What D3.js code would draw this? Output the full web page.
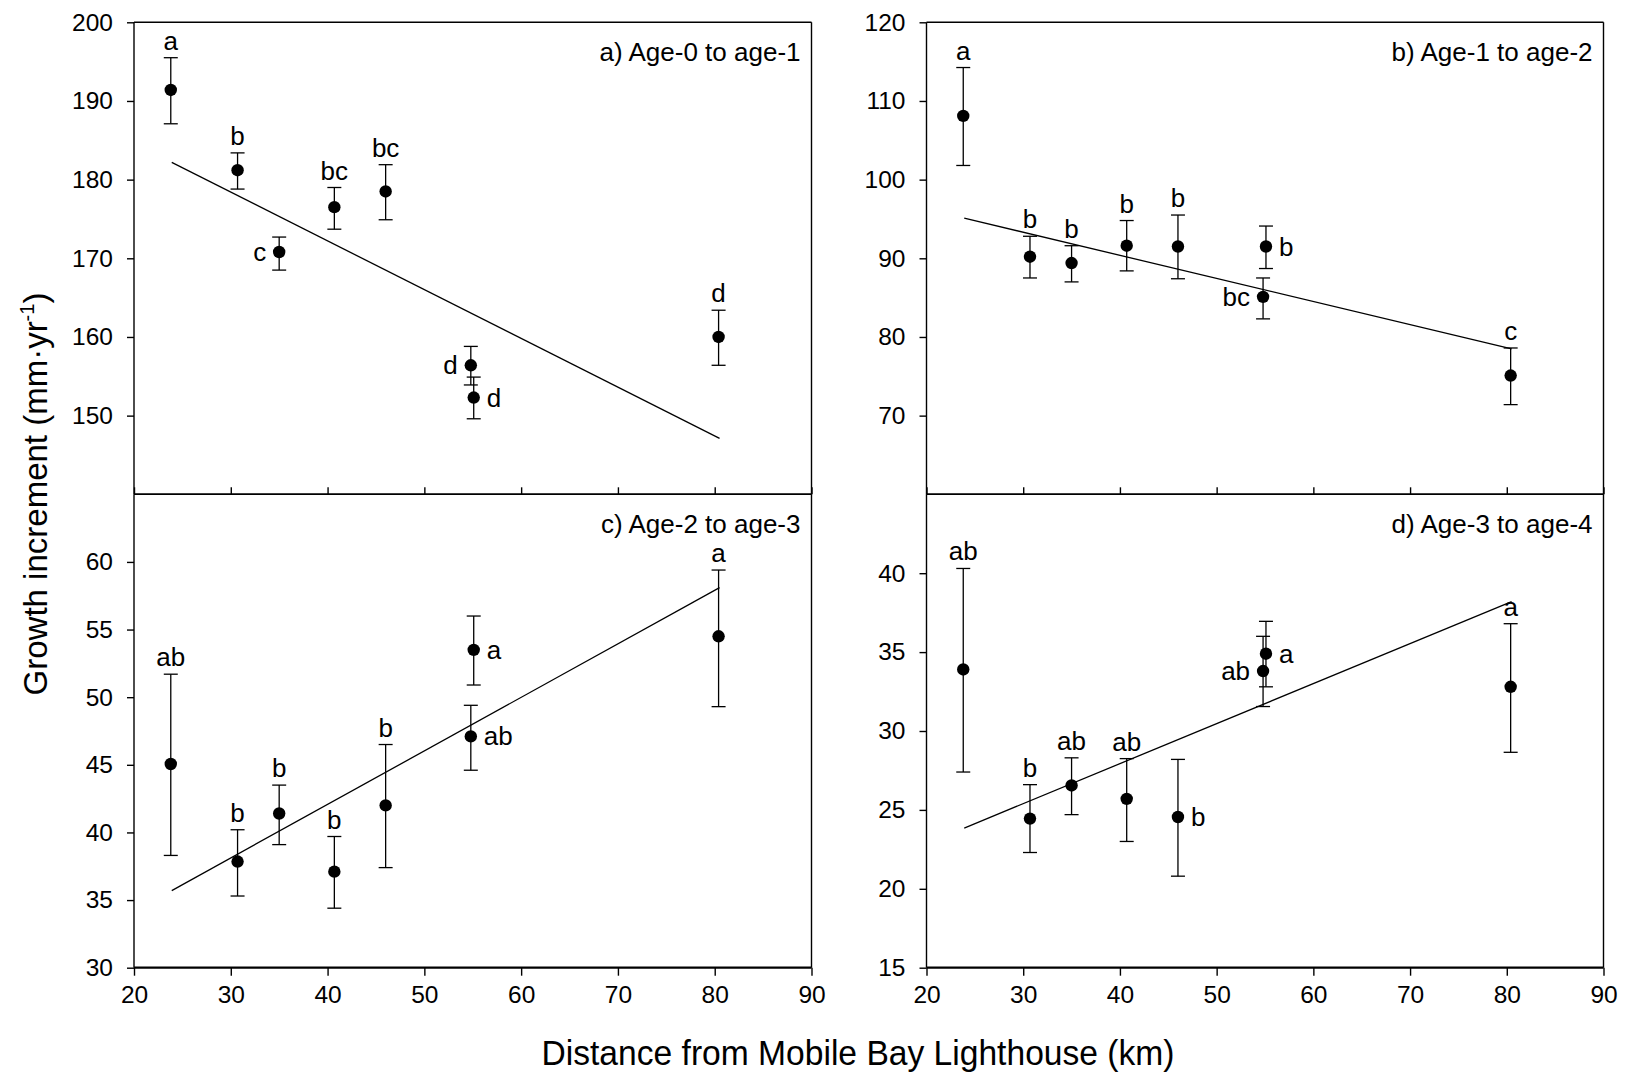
<!DOCTYPE html>
<html><head><meta charset="utf-8">
<script src="https://cdn.jsdelivr.net/npm/d3@7"></script>
<style>
body{margin:0;background:#fff;}
text{font-family:"Liberation Sans",Arial,sans-serif;fill:#000;}
</style></head><body>
<svg id="chart" width="1625" height="1075"></svg>
<script>
// ---------- data ----------
const distances = [23.8, 30.7, 35.0, 40.7, 46.0, 54.8, 55.1, 80.4];
const xTicks = [20, 30, 40, 50, 60, 70, 80, 90];
const trendX = [23.9, 80.5];

const titleA = "a) Age-0 to age-1";
const meanA  = [191.4, 181.2, 170.8, 176.5, 178.5, 156.4, 152.3, 160.0];
const upperA = [195.5, 183.4, 172.7, 179.0, 181.9, 158.8, 154.9, 163.4];
const lowerA = [187.1, 178.8, 168.5, 173.7, 174.9, 153.9, 149.6, 156.4];
const lettersA = ["a", "b", "c", "bc", "bc", "d", "d", "d"];
const placeA   = ["above", "above", "left", "above", "above", "left", "right", "above"];
const trendA = [182.2, 147.1];
const yDomainA = [140, 200];
const yTicksA = [150, 160, 170, 180, 190, 200];

const titleB = "b) Age-1 to age-2";
const meanB  = [108.1, 90.2, 89.4, 91.6, 91.5, 85.1, 91.5, 75.1];
const upperB = [114.25, 92.8, 91.6, 94.8, 95.5, 87.5, 94.1, 78.6];
const lowerB = [101.8, 87.5, 87.0, 88.4, 87.4, 82.3, 88.7, 71.4];
const lettersB = ["a", "b", "b", "b", "b", "bc", "b", "c"];
const placeB   = ["above", "above", "above", "above", "above", "left", "right", "above"];
const trendB = [95.1, 78.5];
const yDomainB = [60, 120];
const yTicksB = [70, 80, 90, 100, 110, 120];

const titleC = "c) Age-2 to age-3";
const meanC  = [45.06, 37.85, 41.4, 37.1, 42.0, 47.1, 53.5, 54.5];
const upperC = [51.7, 40.2, 43.5, 39.7, 46.5, 49.4, 56.0, 59.4];
const lowerC = [38.3, 35.3, 39.1, 34.4, 37.4, 44.6, 50.9, 49.3];
const lettersC = ["ab", "b", "b", "b", "b", "ab", "a", "a"];
const placeC   = ["above", "above", "above", "above", "above", "right", "right", "above"];
const trendC = [35.7, 58.1];
const yDomainC = [30, 65];
const yTicksC = [30, 35, 40, 45, 50, 55, 60];

const titleD = "d) Age-3 to age-4";
const meanD  = [33.9, 24.45, 26.55, 25.7, 24.55, 33.8, 34.9, 32.8];
const upperD = [40.3, 26.6, 28.3, 28.25, 28.2, 36.0, 36.95, 36.8];
const lowerD = [27.4, 22.3, 24.7, 23.0, 20.8, 31.55, 32.8, 28.65];
const lettersD = ["ab", "b", "ab", "ab", "b", "ab", "a", "a"];
const placeD   = ["above", "above", "above", "above", "right", "left", "right", "above"];
const trendD = [23.85, 38.2];
const yDomainD = [15, 45];
const yTicksD = [15, 20, 25, 30, 35, 40];

const xTitle = "Distance from Mobile Bay Lighthouse (km)";

// ---------- layout ----------
const colX = [[134, 811.5], [926.5, 1603.5]];
const rowY = [[22.3, 494.3], [494.3, 967.7]];

const panels = [
  {t: titleA, m: meanA, u: upperA, l: lowerA, let: lettersA, pl: placeA, tr: trendA, dom: yDomainA, ticks: yTicksA, col: 0, row: 0},
  {t: titleB, m: meanB, u: upperB, l: lowerB, let: lettersB, pl: placeB, tr: trendB, dom: yDomainB, ticks: yTicksB, col: 1, row: 0},
  {t: titleC, m: meanC, u: upperC, l: lowerC, let: lettersC, pl: placeC, tr: trendC, dom: yDomainC, ticks: yTicksC, col: 0, row: 1},
  {t: titleD, m: meanD, u: upperD, l: lowerD, let: lettersD, pl: placeD, tr: trendD, dom: yDomainD, ticks: yTicksD, col: 1, row: 1}
];

const svg = d3.select("#chart");
const SW = 1.4;
const FF = "Liberation Sans, Arial, sans-serif";

panels.forEach(p => {
  const [x0, x1] = colX[p.col];
  const [y0, y1] = rowY[p.row];
  const x = d3.scaleLinear().domain([20, 90]).range([x0, x1]);
  const y = d3.scaleLinear().domain(p.dom).range([y1, y0]);
  const g = svg.append("g");

  // y axis
  const ya = g.append("g").attr("transform", `translate(${x0},0)`)
    .call(d3.axisLeft(y).tickValues(p.ticks).tickSize(7).tickPadding(14).tickSizeOuter(0));
  ya.select(".domain").remove();
  ya.selectAll(".tick line").attr("stroke", "#000").attr("stroke-width", SW);
  ya.selectAll(".tick text").attr("font-size", 24.5).attr("font-family", FF);

  // x axis
  if (p.row === 0) {
    const xa = g.append("g").attr("transform", `translate(0,${y1})`)
      .call(d3.axisBottom(x).tickValues(xTicks).tickSize(-7).tickFormat("").tickSizeOuter(0));
    xa.select(".domain").remove();
    xa.selectAll(".tick line").attr("stroke", "#000").attr("stroke-width", SW);
  } else {
    const xa = g.append("g").attr("transform", `translate(0,${y1})`)
      .call(d3.axisBottom(x).tickValues(xTicks).tickSize(8).tickPadding(10).tickSizeOuter(0));
    xa.select(".domain").remove();
    xa.selectAll(".tick line").attr("stroke", "#000").attr("stroke-width", SW);
    xa.selectAll(".tick text").attr("font-size", 24.5).attr("font-family", FF);
  }

  // frame
  g.append("line").attr("x1", x0).attr("x2", x1).attr("y1", y0).attr("y2", y0).attr("stroke", "#000").attr("stroke-width", SW);
  g.append("line").attr("x1", x1).attr("x2", x1).attr("y1", y0).attr("y2", y1).attr("stroke", "#000").attr("stroke-width", SW);
  g.append("line").attr("x1", x0).attr("x2", x0).attr("y1", y0).attr("y2", y1).attr("stroke", "#000").attr("stroke-width", SW);
  g.append("line").attr("x1", x0).attr("x2", x1).attr("y1", y1).attr("y2", y1).attr("stroke", "#000").attr("stroke-width", p.row === 1 ? 2.2 : SW);

  // trend line
  g.append("path")
    .datum(trendX.map((d, i) => [d, p.tr[i]]))
    .attr("d", d3.line().x(d => x(d[0])).y(d => y(d[1])))
    .attr("fill", "none").attr("stroke", "#000").attr("stroke-width", 1.3);

  const idx = d3.range(distances.length);
  // error bars
  const eb = g.selectAll(".eb").data(idx).join("g");
  eb.append("line").attr("x1", i => x(distances[i])).attr("x2", i => x(distances[i]))
    .attr("y1", i => y(p.u[i])).attr("y2", i => y(p.l[i])).attr("stroke", "#000").attr("stroke-width", 1.3);
  eb.append("line").attr("x1", i => x(distances[i]) - 7).attr("x2", i => x(distances[i]) + 7)
    .attr("y1", i => y(p.u[i])).attr("y2", i => y(p.u[i])).attr("stroke", "#000").attr("stroke-width", 1.3);
  eb.append("line").attr("x1", i => x(distances[i]) - 7).attr("x2", i => x(distances[i]) + 7)
    .attr("y1", i => y(p.l[i])).attr("y2", i => y(p.l[i])).attr("stroke", "#000").attr("stroke-width", 1.3);

  // points
  g.selectAll(".pt").data(idx).join("circle")
    .attr("cx", i => x(distances[i])).attr("cy", i => y(p.m[i])).attr("r", 6.2).attr("fill", "#000");

  // letters
  g.selectAll(".lab").data(idx).join("text")
    .attr("font-size", 26)
    .attr("text-anchor", i => p.pl[i] === "left" ? "end" : (p.pl[i] === "right" ? "start" : "middle"))
    .attr("x", i => x(distances[i]) + (p.pl[i] === "left" ? -13 : (p.pl[i] === "right" ? 13 : 0)))
    .attr("y", i => p.pl[i] === "above" ? y(p.u[i]) - 8 : y(p.m[i]) + 9)
    .text(i => p.let[i]);

  // panel title
  g.append("text").attr("x", x1 - 11).attr("y", y0 + 39).attr("text-anchor", "end")
    .attr("font-size", 26).text(p.t);
});

// axis titles
svg.append("text").attr("x", 858).attr("y", 1065).attr("text-anchor", "middle")
  .attr("font-size", 35).attr("textLength", 633).attr("lengthAdjust", "spacingAndGlyphs").text(xTitle);

const yt = svg.append("text").attr("transform", "translate(47,494) rotate(-90)")
  .attr("text-anchor", "middle").attr("font-size", 33);
yt.append("tspan").text("Growth increment (mm\u00B7yr");
yt.append("tspan").attr("font-size", 20).attr("dy", -13).text("-1");
yt.append("tspan").attr("dy", 13).text(")");
</script>
</body></html>
